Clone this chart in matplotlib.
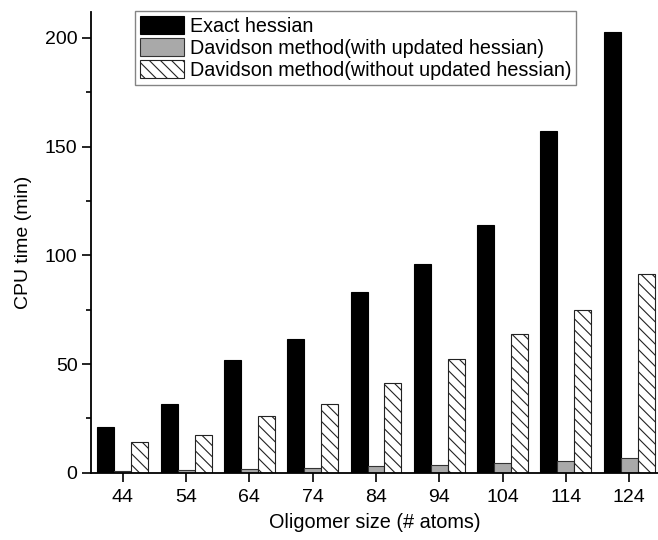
import matplotlib
matplotlib.use("Agg")
import matplotlib.pyplot as plt
import numpy as np

plt.rcParams['font.family'] = ['Liberation Sans', 'DejaVu Sans']
plt.rcParams['hatch.linewidth'] = 0.8

sizes = ['44', '54', '64', '74', '84', '94', '104', '114', '124']
exact = [21.1, 31.4, 51.9, 61.4, 83.3, 95.9, 114.1, 157.0, 202.6]
dav_updated = [0.8, 1.1, 1.5, 2.2, 2.9, 3.7, 4.3, 5.4, 6.6]
dav_not_updated = [14.0, 17.2, 26.0, 31.6, 41.1, 52.1, 63.9, 75.0, 91.6]

fig = plt.figure(figsize=(6.58, 5.40), dpi=100)
ax = fig.add_axes([0.138, 0.1246, 0.862, 0.8534])

x = np.arange(len(sizes))
w = 0.268
ax.bar(x - w, exact, w, color='black', edgecolor='black', linewidth=0.8,
       label='Exact hessian')
ax.bar(x, dav_updated, w, color='#a9a9a9', edgecolor='#333333', linewidth=0.8,
       label='Davidson method(with updated hessian)')
ax.bar(x + w, dav_not_updated, w, color='white', edgecolor='#222222', linewidth=0.8,
       hatch='\\\\\\', label='Davidson method(without updated hessian)')

ax.set_xlim(-0.505, 8.455)
ax.set_ylim(0, 212)
ax.set_xticks(x)
ax.set_xticklabels(sizes)
ax.set_yticks([0, 50, 100, 150, 200])
ax.set_yticks([25, 75, 125, 175], minor=True)
ax.tick_params(axis='both', which='major', direction='out', length=6.5, width=1.2,
               labelsize=14)
ax.tick_params(axis='x', which='major', pad=5)
ax.tick_params(axis='y', which='major', pad=3)
ax.tick_params(axis='y', which='minor', direction='out', length=3.4, width=1.2)
for s in ['top', 'right']:
    ax.spines[s].set_visible(False)
for s in ['left', 'bottom']:
    ax.spines[s].set_linewidth(1.3)

ax.set_ylabel('CPU time (min)', fontsize=14)
ax.yaxis.set_label_coords(-0.1035, 0.5)
ax.set_xlabel('Oligomer size (# atoms)', fontsize=14.3)
ax.xaxis.set_label_coords(0.5, -0.0874)

leg = ax.legend(loc='upper left', bbox_to_anchor=(0.0776, 1.002), fontsize=14.2,
                frameon=True, fancybox=False, edgecolor='#666666',
                handlelength=2.25, handleheight=1.06, handletextpad=0.3,
                labelspacing=0.1, borderpad=0.25, borderaxespad=0)
leg.get_frame().set_linewidth(1.0)

fig.savefig('out.png', dpi=100)
